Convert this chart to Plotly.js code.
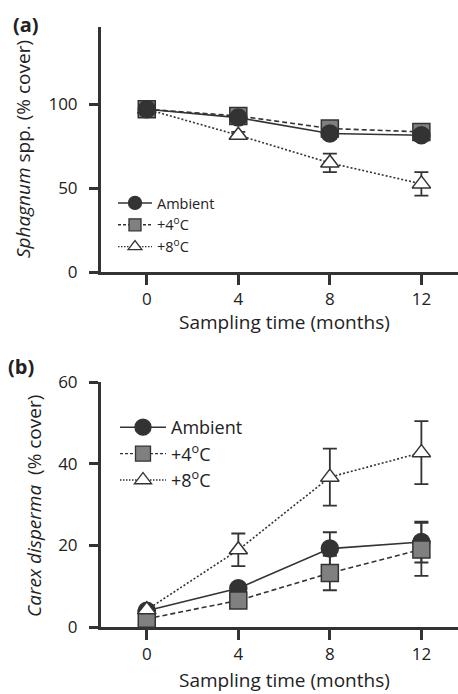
<!DOCTYPE html>
<html>
<head>
<meta charset="utf-8">
<script src="https://cdn.plot.ly/plotly-3.0.1.min.js"></script>
<style>html,body{margin:0;padding:0;background:#fff;}#chart{width:458px;height:694px;}</style>
</head>
<body>
<div id="chart"></div>
<script>
// ---- data ----
const months = [0, 4, 8, 12];
const seriesNames = ['Ambient', '+4<sup>o</sup>C', '+8<sup>o</sup>C'];

// (a) Sphagnum spp. (% cover)
const sphAmbient = [97, 92, 82.5, 81.5];
const sphAmbientErr = [1.5, 2, 3, 3];
const sph4C = [97, 93, 85.5, 83.5];
const sph4CErr = [1.5, 2, 4, 3];
const sph8C = [97, 81.5, 65, 52.5];
const sph8CErr = [1, 2, 5.5, 7];

// (b) Carex disperma (% cover)
const carAmbient = [4, 9.5, 19.2, 20.8];
const carAmbientErr = [0.5, 1, 4, 5];
const car4C = [2, 6.5, 13.2, 19];
const car4CErr = [0.5, 1, 4.2, 6.5];
const car8C = [4.2, 18.9, 36.7, 42.7];
const car8CErr = [0.5, 4, 7, 7.7];

const ink = '#333333';
const styles = [
  {dash: 'solid', symbol: 'circle', fill: ink, size: 17},
  {dash: '5px,3px', symbol: 'square', fill: '#808080', size: 17},
  {dash: '2px,2px', symbol: 'triangle-up', fill: '#ffffff', size: 16}
];
const legendDash = ['solid', '3px,2px', '1.5px,1.5px'];
const legendSizes = {legend: [13, 12, 12], legend2: [16, 15, 15]};

function mk(y, err, i, xa, ya) {
  const s = styles[i];
  return {
    x: months, y: y, type: 'scatter', mode: 'lines+markers',
    name: seriesNames[i], xaxis: xa, yaxis: ya, showlegend: false,
    cliponaxis: false,
    line: {color: ink, width: 1.6, dash: s.dash},
    marker: {symbol: s.symbol, size: s.size, color: s.fill, line: {color: ink, width: 1.5}},
    error_y: {type: 'data', array: err, visible: true, color: ink, thickness: 1.8, width: 7}
  };
}
// legend-only entries (no data points), sized like the reference key
function legendEntry(i, xa, ya, leg) {
  const s = styles[i];
  return {
    x: [null], y: [null], type: 'scatter', mode: 'lines+markers',
    name: seriesNames[i], xaxis: xa, yaxis: ya, legend: leg, legendrank: i + 1,
    line: {color: ink, width: 1.4, dash: legendDash[i]},
    marker: {symbol: s.symbol, size: legendSizes[leg][i], color: s.fill, line: {color: ink, width: 1.3}}
  };
}

const traces = [
  mk(sph8C, sph8CErr, 2, 'x', 'y'),
  mk(sph4C, sph4CErr, 1, 'x', 'y'),
  mk(sphAmbient, sphAmbientErr, 0, 'x', 'y'),
  mk(carAmbient, carAmbientErr, 0, 'x2', 'y2'),
  mk(car4C, car4CErr, 1, 'x2', 'y2'),
  mk(car8C, car8CErr, 2, 'x2', 'y2'),
  legendEntry(0, 'x', 'y', 'legend'), legendEntry(1, 'x', 'y', 'legend'), legendEntry(2, 'x', 'y', 'legend'),
  legendEntry(0, 'x2', 'y2', 'legend2'), legendEntry(1, 'x2', 'y2', 'legend2'), legendEntry(2, 'x2', 'y2', 'legend2')
];

const W = 458, H = 694;
const fontFam = '"Open Sans", "DejaVu Sans", sans-serif';
const xdom = [101 / W, 1];
function xax(anchor) {
  return {
    domain: xdom, anchor: anchor, range: [-2, 13.6], tickvals: months,
    showline: true, linecolor: ink, linewidth: 3, ticks: 'outside', ticklen: 10,
    tickwidth: 3, tickcolor: ink, showgrid: false, zeroline: false,
    tickfont: {family: fontFam, size: 17, color: '#222'}, ticklabelstandoff: 0
  };
}
function yax(anchor, dom, range, tv) {
  return {
    domain: dom, anchor: anchor, range: range, tickvals: tv,
    showline: true, linecolor: ink, linewidth: 3, ticks: 'outside', ticklen: 9,
    tickwidth: 3, tickcolor: ink, showgrid: false, zeroline: false,
    tickfont: {family: fontFam, size: 17, color: '#222'}, ticklabelstandoff: 8
  };
}

const layout = {
  width: W, height: H, margin: {l: 0, r: 0, t: 0, b: 0},
  paper_bgcolor: '#fff', plot_bgcolor: '#fff', showlegend: true,
  font: {family: fontFam, color: '#222'},
  xaxis: xax('y'),
  yaxis: yax('x', [1 - 272 / H, 1 - 27 / H], [0, 146], [0, 50, 100]),
  xaxis2: xax('y2'),
  yaxis2: yax('x2', [1 - 627 / H, 1 - 382 / H], [0, 60], [0, 20, 40, 60]),
  legend: {x: 113 / W, y: 1 - 187 / H, xanchor: 'left', yanchor: 'top', itemwidth: 34,
    bgcolor: 'rgba(0,0,0,0)', font: {family: fontFam, size: 14.5, color: '#222'}, tracegroupgap: 0},
  legend2: {x: 115 / W, y: 1 - 409 / H, xanchor: 'left', yanchor: 'top', itemwidth: 46,
    bgcolor: 'rgba(0,0,0,0)', font: {family: fontFam, size: 18, color: '#222'}, tracegroupgap: 0},
  annotations: [
    {text: '<b>(a)</b>', xref: 'paper', yref: 'paper', x: 11 / W, y: 1 - 25 / H, xanchor: 'left', yanchor: 'middle',
      showarrow: false, font: {family: fontFam, size: 20, color: '#222'}},
    {text: '<b>(b)</b>', xref: 'paper', yref: 'paper', x: 6 / W, y: 1 - 367 / H, xanchor: 'left', yanchor: 'middle',
      showarrow: false, font: {family: fontFam, size: 20, color: '#222'}},
    {text: 'Sampling time (months)', xref: 'paper', yref: 'paper', x: 284 / W, y: 1 - 322 / H, xanchor: 'center', yanchor: 'middle',
      showarrow: false, font: {family: fontFam, size: 19, color: '#222'}},
    {text: 'Sampling time (months)', xref: 'paper', yref: 'paper', x: 284 / W, y: 1 - 680 / H, xanchor: 'center', yanchor: 'middle',
      showarrow: false, font: {family: fontFam, size: 19, color: '#222'}},
    {text: '<i>Sphagnum</i> spp. (% cover)', xref: 'paper', yref: 'paper', x: 23 / W, y: 1 - 149 / H, xanchor: 'center', yanchor: 'middle',
      textangle: -90, showarrow: false, font: {family: fontFam, size: 19, color: '#222'}},
    {text: '<i>Carex disperma</i>  (% cover)', xref: 'paper', yref: 'paper', x: 34 / W, y: 1 - 506 / H, xanchor: 'center', yanchor: 'middle',
      textangle: -90, showarrow: false, font: {family: fontFam, size: 19, color: '#222'}}
  ]
};

Plotly.newPlot('chart', traces, layout, {displayModeBar: false, staticPlot: true});
</script>
</body>
</html>
